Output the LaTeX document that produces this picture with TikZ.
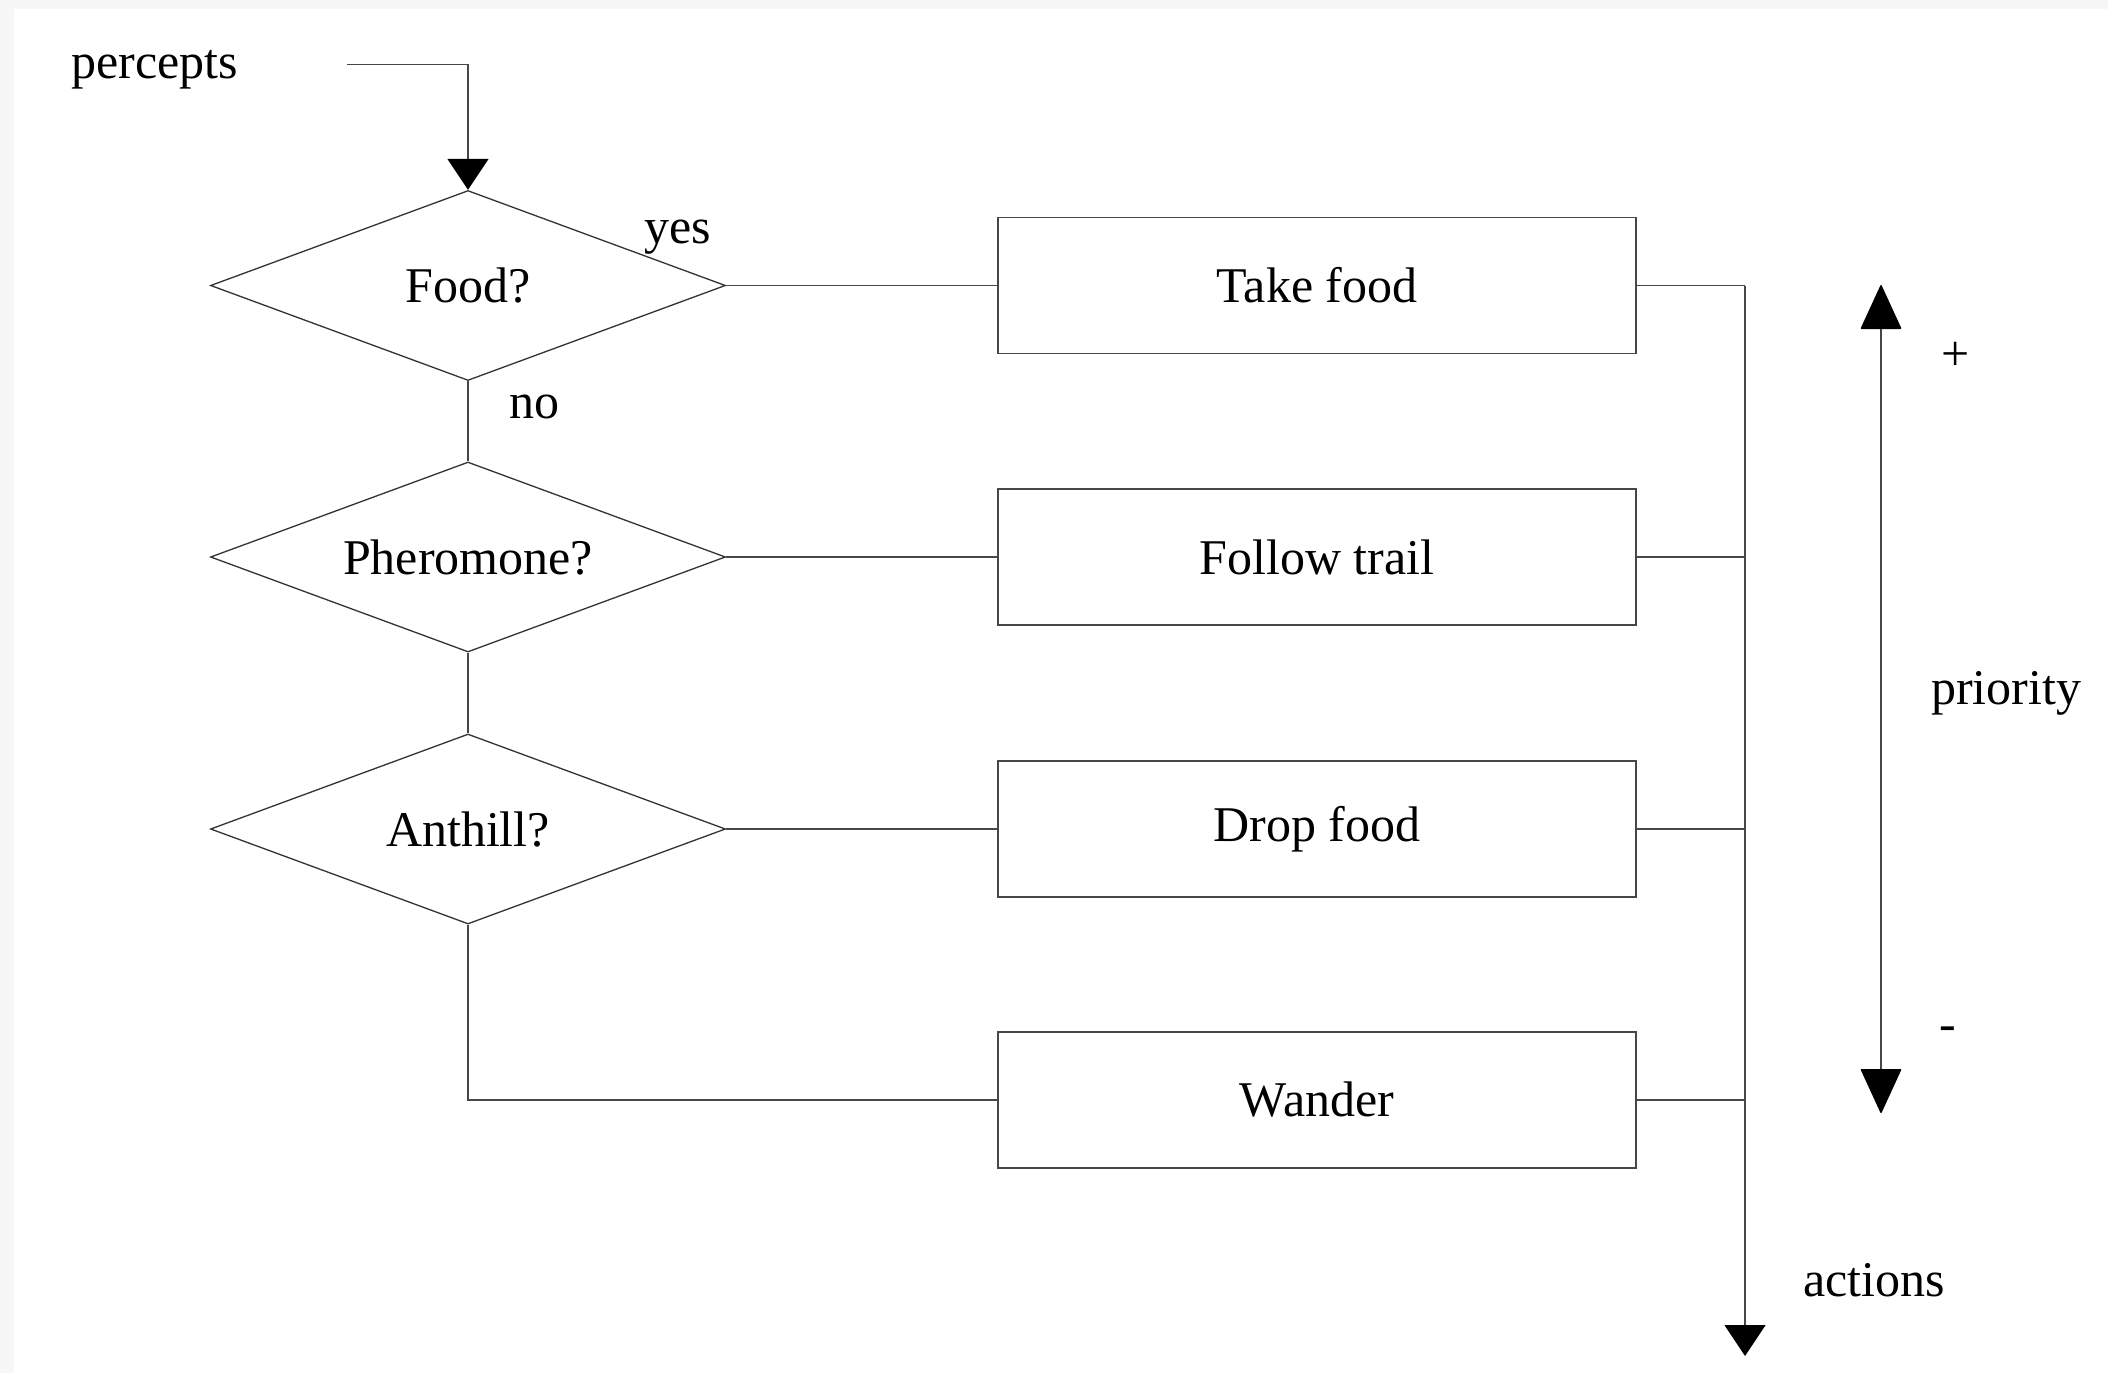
\documentclass[tikz,border=0pt]{standalone}
\usepackage{fontspec}
\setmainfont{Liberation Serif}
\usetikzlibrary{shapes.geometric,arrows.meta}
\begin{document}
\begin{tikzpicture}[x=1pt,y=-1pt,
  every node/.style={font=\fontsize{50}{60}\selectfont},
  link/.style={line width=1.4pt, draw=black!72},
  test/.style={diamond, draw=black!80, line width=1.3pt,
    minimum width=515pt, minimum height=190pt, inner sep=0pt,
    label={center:#1}},
  action/.style={rectangle, draw=black!72, line width=1.4pt,
    minimum width=638pt, minimum height=136pt, inner sep=0pt},
  tip/.style={-{Triangle[width=41pt,length=31pt,color=black]}},
  bigtip/.style={{Triangle[width=41pt,length=45pt,round,color=black]}-{Triangle[width=41pt,length=45pt,round,color=black]}}
]
% page and frame
\useasboundingbox (0,0) rectangle (2108,1373);
\fill[black!3] (0,0) rectangle (2108,1373);
\fill[white] (14,9) rectangle (2108,1373);

% decisions (fixed-size diamonds, text laid on top)
\node[test={Food?}] (food) at (468,285.5) {};
\node[test={Pheromone?}] (pher) at (468,557) {};
\node[test={Anthill?}] (hill) at (468,829) {};

% behaviours
\node[action] (take)   at (1317,285.5) {Take food};
\node[action] (follow) at (1317,557)   {Follow trail};
\node[action] (drop)   at (1317,829)   {Drop food};
\node[action] (wander) at (1317,1100)  {Wander};

% labels
\node (percepts) at (155,70) {percepts};
\node (yes) at (678,237) {yes};
\node (no)  at (534,407) {no};
\node (actions) at (1874,1280) {actions};
\node (prio) at (2006,693) {priority};
\node (plus) at (1956,356) {+};
\node (minus) at (1948,1034) {-};

% helper coordinates
\coordinate (pin) at (347,64.5);
\coordinate (pbend) at (468,64.5);
\coordinate (wbend) at (468,1100);
\coordinate (bus0) at (1745,285.5);
\coordinate (bus1) at (1745,557);
\coordinate (bus2) at (1745,829);
\coordinate (bus3) at (1745,1100);
\coordinate (busend) at (1745,1356);
\coordinate (ptop) at (1881,285);
\coordinate (pbot) at (1881,1113);

% input
\draw[link,tip] (pin) -- (pbend) -- (food.north);

% decision chain
\draw[link] (food.south) -- (pher.north);
\draw[link] (pher.south) -- (hill.north);
\draw[link] (hill.south) -- (wbend) -- (wander.west);

% decisions to behaviours
\draw[link] (food.east) -- (take.west);
\draw[link] (pher.east) -- (follow.west);
\draw[link] (hill.east) -- (drop.west);

% behaviours to output
\draw[link] (take.east) -- (bus0);
\draw[link] (follow.east) -- (bus1);
\draw[link] (drop.east) -- (bus2);
\draw[link] (wander.east) -- (bus3);
\draw[link,tip] (bus0) -- (busend);

% priority scale
\draw[link,bigtip] (ptop) -- (pbot);
\end{tikzpicture}
\end{document}
